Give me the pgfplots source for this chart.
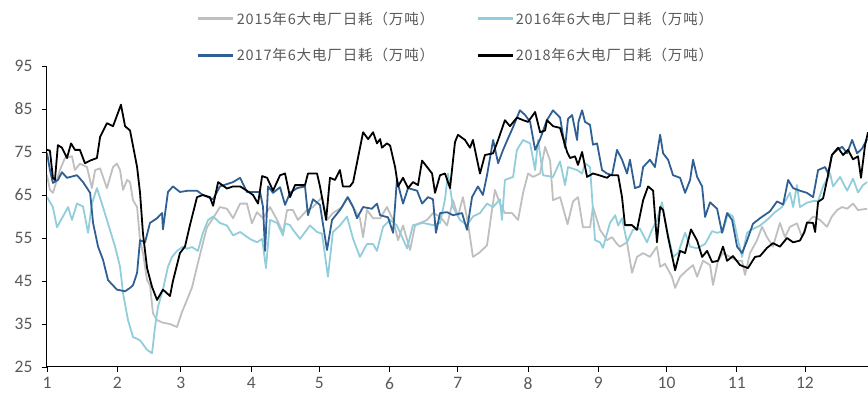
\documentclass[border=0pt]{standalone}
\usepackage{pgfplots}
\pgfplotsset{compat=1.18}
\usepackage{fontspec}
\setmainfont{Carlito}
\newfontfamily\cjk[LetterSpace=6]{Noto Sans CJK SC}
\definecolor{c15}{HTML}{BFBFBF}
\definecolor{c16}{HTML}{92CDDC}
\definecolor{c17}{HTML}{2F5F93}
\definecolor{c18}{HTML}{000000}
\definecolor{tickc}{HTML}{595959}
\begin{document}
\begin{tikzpicture}[x=1pt,y=1pt]
\useasboundingbox (0,0) rectangle (868,399);
\clip (0,0) rectangle (868,399);
\begin{axis}[
  at={(47pt,32pt)}, anchor=south west,
  scale only axis, width=821pt, height=301pt,
  xmin=0, xmax=361.8, ymin=25, ymax=95,
  axis lines*=left,
  xtick={0,31,59,90,120,151,181,212,243,273,304,334},
  xticklabels={1,2,3,4,5,6,7,8,9,10,11,12},
  ytick={25,35,45,55,65,75,85,95},
  tick align=outside, major tick length=5pt,
  tick style={black, line width=0.8pt},
  axis line style={black, line width=1pt},
  ticklabel style={font=\fontsize{17.5}{17.5}\selectfont, text=tickc},
  yticklabel style={xshift=-6pt},
  xticklabel style={yshift=-2pt},
  /pgf/number format/assume math mode=true,
  every axis plot/.append style={line width=1.8pt, line join=round, no marks},
  legend columns=2,
  legend cell align=left,
  legend image code/.code={\draw[#1, line width=2.6pt] (0pt,0pt) -- (35pt,0pt);},
  legend style={font=\cjk\fontsize{14.5}{15}\selectfont, text=tickc, draw=none, fill=none,
    at={(0.1827,1.188)}, anchor=north west, inner sep=0pt,
    /tikz/every even column/.append style={column sep=40pt}, row sep=19pt},
]
\addplot[c15] coordinates {
(0,69.6)(1.3,66.2)(2.6,65.5)(4.4,68.5)(5.7,70.8)(7.9,73.6)(11,74)(12.3,70.8)(14.5,72.3)(17.6,71.5)(19.8,66.6)(21.2,70.8)(23.4,71.2)(26.4,66.6)(29.1,71.5)(30.8,72.3)(32.2,70.8)(33.5,66.2)(35.3,68.5)(36.6,68)(37.9,63.8)(39.7,62.2)(41,54.5)(42.3,51.5)(44.1,45.2)(45.4,44)(46.7,37.5)(48.5,35.9)(51.1,35.3)(54.2,35)(57.3,34.3)(59.5,37.8)(61.7,40.6)(63.9,43.5)(66.1,48.3)(68.3,53)(70.5,57.5)(73.2,59.6)(76.2,62.2)(79.3,61.8)(82,59.6)(85.1,63)(88.1,63)(90.3,58.4)(92.5,61)(95.2,59.6)(98.3,62.2)(101.4,59.2)(104,56.2)(105.8,61.5)(108.4,61.5)(110.6,59.2)(114.6,61.5)(117.2,62.2)(121.2,64.5)(123.4,59.2)(126,60.8)(130,62.2)(132.2,64.5)(134.9,62.2)(137.9,59.6)(139.3,55.2)(141,61.5)(143.7,59.6)(146.8,59.6)(149.8,62.2)(152.5,59.2)(154.7,54.5)(156.9,57.9)(160,52.2)(162.2,57.9)(164.4,58.5)(167.5,59.2)(170.1,60.8)(173.2,60)(176.3,57.9)(178.9,63.8)(181.1,60)(183.3,64.5)(185.5,58.5)(187.7,50.6)(190.8,51.7)(193.9,53.3)(196.1,61.5)(197.4,66.2)(199.6,63)(201.8,60.8)(204.9,60.8)(207.6,59.2)(209.8,65.5)(212,70)(214.2,69.2)(217.3,70)(219.5,76.2)(221.7,73)(223,63.8)(226.1,64.5)(229.4,58.2)(231.8,63.5)(234,64.5)(236.2,57.5)(239.3,57.5)(240.6,62.2)(243.7,56.9)(246.8,54.5)(249,55.2)(251.2,53.6)(252.5,53)(255.6,54)(257.8,46.9)(260,50.6)(262.7,51.5)(265.7,50.6)(268.8,53)(270.2,48.3)(272.3,49)(275.4,46)(276.8,43.4)(279,46)(282,47.5)(284.7,48.7)(286.5,46)(289.1,49.7)(292.2,48.7)(293.5,44.1)(295.7,49.7)(297.9,51.5)(301,50.6)(304.1,49.7)(306.3,49.7)(307.6,46.4)(309.8,51.5)(312.9,54.5)(315.1,57.6)(317.3,55.2)(319.9,53)(323,58.5)(325.2,55.2)(327.4,57.6)(330.5,58.4)(332.7,55.2)(334.9,58.4)(337.6,60)(340.7,59.2)(343.7,57.6)(345.9,60)(348.2,61.5)(350.4,62.2)(352.6,61.8)(355.2,63)(357.4,61.5)(361.4,61.8)
};
\addlegendentry{2015年6大电厂日耗（万吨）}
\addplot[c16] coordinates {
(0,64.5)(2.6,62.2)(4.4,57.5)(6.6,59.6)(9.3,62.2)(11,59.2)(13.2,63)(15.9,62.3)(18.1,56.2)(19.8,63)(22,66.6)(24.2,63)(26.4,59.2)(30,53)(32.2,48.3)(33.5,42.2)(35.7,35.9)(37.9,32)(41,31.2)(44.1,29)(46.3,28.2)(47.6,34.3)(48.9,39)(51.1,43)(53.3,48.3)(55.1,50.6)(57.3,52)(59.9,53)(61.7,52.5)(63.9,52.9)(66.5,52)(68.7,56.2)(71,59.2)(73.2,60)(76.2,58.5)(79.3,57.9)(82,55.6)(85.1,56.4)(89.4,54.8)(92.5,54)(94.8,54.8)(96.5,48)(98.3,59.2)(101.4,58.5)(104,55.6)(104.9,58.4)(107.1,58)(108.4,56.9)(111.5,54.8)(115.9,57.9)(119,56.4)(121.2,56)(123.8,46)(126,56.4)(129.1,57.9)(132.2,60)(134.9,54.8)(137.9,50.6)(141,53.6)(143.7,53.6)(145.4,52)(148.1,57.6)(151.2,59.2)(154.2,57.9)(158.7,52.6)(161.3,58)(165.7,58.5)(170.1,58)(173.2,58.5)(175.4,64)(176.7,70)(178.9,62.2)(182,59.2)(185.1,58)(187.7,60)(190.8,60.8)(193.9,63)(196.6,62.2)(199.6,64)(200.5,59.2)(201.8,68.5)(205.4,69.2)(207.1,75.5)(209.8,77.8)(212.9,77)(215.1,70.8)(216.4,77.8)(218.6,69.6)(223,69.2)(226.1,72.8)(228.3,67.3)(229.6,71.5)(233.6,70.8)(235.8,70)(237.1,72.4)(239.3,71.5)(241.5,54.5)(243.7,54)(245,52.7)(248.1,58.5)(250.4,60.3)(251.7,57.9)(253.4,59.6)(255.6,54)(258.2,56.9)(261.3,57.2)(264.4,54)(266.6,56.9)(268.8,59.2)(271,63.3)(273.2,56.9)(275.9,50.6)(278.1,51.5)(281.2,56.2)(283.4,53)(286.5,52.6)(290,53.6)(293.1,56.6)(295.3,56.2)(297.9,56.6)(300.1,60.8)(302.3,60)(304.5,54.5)(306.3,50.6)(308.5,56.2)(310.7,57)(314.2,57.9)(317.3,59.2)(320.8,61)(323.9,62.2)(327.4,65.5)(328.8,62.2)(330.5,67.3)(331.8,62.2)(334.9,63.2)(337.6,63.6)(339.8,63.6)(342,67)(345.1,70)(346.4,67)(349.5,69.2)(352.6,66)(355.2,68.8)(357.4,65.6)(359.6,67.3)(361.4,68)
};
\addlegendentry{2016年6大电厂日耗（万吨）}
\addplot[c17] coordinates {
(0,74.8)(1.3,70.8)(2.6,67.8)(4.8,68.5)(6.6,70.3)(8.8,69)(13.2,69.6)(15.9,68)(19,65.5)(20.3,58.5)(22.5,53)(24.7,49.9)(26.9,45.2)(30.8,43)(34.4,42.6)(36.6,43.4)(37.9,44)(39.7,46.9)(41,54.5)(43.2,54)(45.4,58.5)(48.5,59.6)(50.7,60.8)(51.1,57)(53.3,65.7)(55.5,67)(58.6,65.7)(62.1,66)(66.1,66)(68.7,65)(73.2,64)(76.2,67)(82,68)(85.1,69)(88.1,65.7)(93.9,65.7)(95.2,62.2)(96.1,52)(97.4,67)(99.6,65.5)(102.7,66.8)(104.9,62.7)(107.1,65.5)(110.2,66.6)(113.7,67)(115,60.3)(117.2,64)(120.3,62.7)(123.4,52.2)(125.6,59.2)(129.1,61.5)(132.6,64.5)(134.9,62.2)(136.6,59.6)(139.3,62.2)(143.2,61.8)(145.4,63)(146.8,60.3)(150.3,59.8)(152.5,56.2)(154.2,68.5)(156.9,63)(159.1,66.6)(163.1,66)(165.3,63)(167.9,64.5)(170.1,64)(171.4,56.2)(173.2,60.8)(176.3,61)(178.9,60.3)(182.9,60.8)(185.1,56.9)(187.3,64.5)(189.9,67)(192.1,65)(193.9,69.6)(196.6,77.8)(198.8,72.4)(201,75.5)(203.2,78.2)(205.4,80.8)(208.4,84.7)(210.7,83.6)(212.9,82)(215.1,75.5)(217.3,78)(220.3,82.4)(223,84.7)(226.1,83)(228.3,76)(229.6,82.7)(231.4,83.6)(233.6,77.8)(234.2,82)(235.8,84.7)(237.1,82)(239.3,81.3)(240.6,76.7)(242.4,77)(244.6,70.8)(246.8,70)(249,69.6)(251.2,75.5)(253.4,73.2)(255.6,70)(256.9,73.2)(259.1,66.6)(261.3,67)(262.7,71.5)(265.7,73.2)(267.9,71.5)(270.2,79)(271.5,74.7)(273.7,73.2)(275.9,69.6)(279,69)(281.2,65.5)(283.4,68.5)(284.7,73.2)(286.5,69.2)(288.7,67)(290,59.9)(292.2,63.3)(295.3,61.8)(297.5,56.2)(299.7,60.8)(301.9,59.2)(304.1,53)(306.3,51.5)(308.5,54.4)(311.1,58.3)(314.2,59.6)(318.6,61.2)(321.7,63.5)(324.4,62.8)(326.6,68.5)(328.8,66.6)(331.8,66)(334.9,65.5)(337.6,64.5)(339.8,70.8)(342.9,71.5)(344.2,70)(345.9,74.3)(348.2,75.5)(350.4,76.2)(352.6,74.7)(354.8,77.8)(357,74.7)(359.2,75.8)(361.4,78)
};
\addlegendentry{2017年6大电厂日耗（万吨）}
\addplot[c18] coordinates {
(0,75.5)(1.3,75.3)(2.6,69)(3.5,68.5)(4.8,76.6)(6.6,76)(8.8,73.6)(10.6,77)(12.3,75.5)(14.5,75.5)(16.7,72.4)(19,73)(22,73.6)(23.4,78.5)(26.4,81.7)(29.1,81)(30.5,83)(32.6,86)(34.4,81)(36.6,80)(39.7,71.5)(41,65.5)(42.3,56)(44.1,48)(46.3,43.6)(48.5,40.6)(51.1,43)(54.2,41.5)(55.5,45)(58.6,51.5)(60.8,53)(63,58)(66.1,64.5)(68.7,65)(71.8,64.5)(73.2,62.5)(75.4,68)(79.3,66.5)(82,67)(85.1,67)(88.1,66)(90.8,65)(93,63)(94.8,69.4)(97,69)(99.6,66)(102.7,69.6)(104.9,70)(107.1,64.5)(109.3,67.3)(113.7,67.3)(115,70)(119,70)(120.3,67)(123,59.2)(124.7,69)(126.9,68.5)(129.1,70.8)(130.4,67)(133.5,67)(134.9,68)(137.1,73.8)(139.3,79.6)(141.5,78)(143.7,79.6)(145.4,77)(146.8,78)(147.6,76)(149.8,77)(151.2,76.5)(153.4,71.5)(154.7,67)(156.9,69)(159.1,66.6)(161.3,68)(163.5,67.3)(165.3,73)(167.5,71.5)(169.7,70)(171,65.5)(173.2,69.6)(175.4,70)(177.6,66.6)(179.8,77.3)(181.1,79)(184.2,77.8)(186.4,76)(187.7,77.8)(190.8,70)(193,74.3)(196.6,74.7)(198.8,77.8)(201.8,82.4)(204,81)(207.1,83)(209.8,82.4)(212,82)(215.1,84.3)(217.3,79.6)(219.5,80)(220.3,82.4)(223,81)(226.1,80.6)(229.2,75)(230.5,73.6)(232.7,74)(234,72)(235.8,75)(238,69.2)(240.6,70)(243.3,69.6)(246.8,69)(248.1,69.6)(251.7,69.6)(253.4,64.5)(254.7,58)(257.8,58)(260,56.9)(262.7,63.8)(264.9,67)(267.1,66)(268.8,54)(270.2,62.2)(271.5,61.5)(273.7,55.2)(276.8,47.5)(279,52)(281.2,51.5)(283.8,57)(286.5,54.4)(288.7,50.6)(290.9,52)(293.1,49.4)(295.7,49.7)(297.9,53)(299.7,49.7)(302.3,50.8)(305.4,48.7)(308.9,48)(312,50.6)(314.2,50.8)(317.3,52.7)(319.9,53.8)(323,53)(326.1,55)(328.8,54)(331.8,54.4)(333.8,56.4)(334.9,58.6)(337.6,58.5)(338.5,56.4)(339.8,63.4)(342,64.2)(344.2,69.6)(345.9,74.3)(348.6,76)(350.8,74.3)(353,75.5)(355.2,73.3)(357.4,74)(358.7,69)(360.5,76.6)(361.8,79.6)
};
\addlegendentry{2018年6大电厂日耗（万吨）}
\end{axis}
\end{tikzpicture}
\end{document}
